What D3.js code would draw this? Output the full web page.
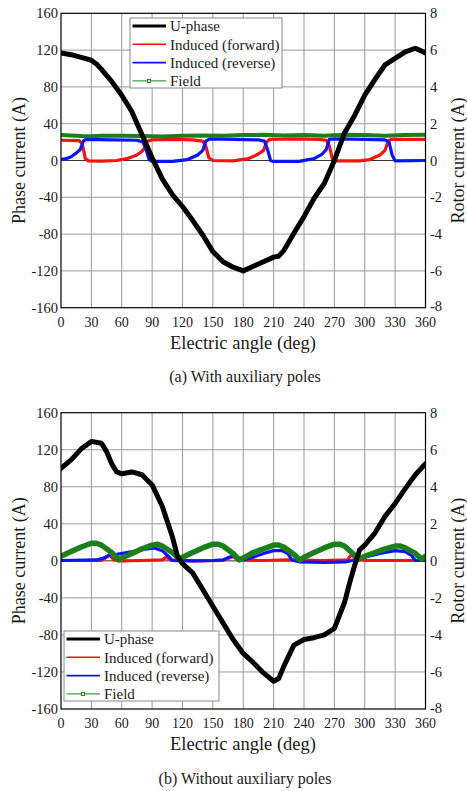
<!DOCTYPE html>
<html>
<head>
<meta charset="utf-8">
<script src="https://cdn.jsdelivr.net/npm/d3@7"></script>
<style>
  body { margin: 0; background: #fff; }
  svg text { font-family: 'Liberation Serif', 'Times New Roman', Times, serif; fill: #1a1a1a; }
</style>
</head>
<body>
<svg id="chart" width="467" height="791" font-family="Liberation Serif, Times New Roman, serif"></svg>
<script>
// ---- tick values ----
const angleTicks = d3.range(0, 361, 30);
const phaseTicks = d3.range(-160, 161, 40);
const rotorTicks = d3.range(-8, 9, 2);

// ---- (a) with auxiliary poles ----
const aUAngle = [0, 10, 20, 30, 35, 40, 50, 60, 70, 80, 90, 100, 110, 120, 130, 140, 150, 160, 170, 180,
                 190, 200, 210, 215, 220, 230, 240, 250, 260, 270, 280, 290, 300, 310, 320, 330, 340, 350, 360];
const aU      = [117, 115, 112, 109, 105, 99, 86, 71, 53, 28, 3, -20, -37, -50, -65, -81, -99, -110, -116, -120,
                 -115, -110, -105, -104, -98, -79, -61, -41, -25, 0, 30, 49, 71, 88, 104, 111, 118, 122, 117];

const aFwdAngle = [0, 18, 21, 24, 27, 40, 55, 65, 75, 80, 83, 85, 90, 110, 130, 140, 143, 146, 150, 170,
                   185, 195, 200, 203, 206, 230, 255, 262, 265, 268, 272, 295, 305, 315, 320, 323, 326, 360];
const aFwd      = [1.1, 1.08, 0.9, 0.1, -0.02, -0.03, 0.0, 0.1, 0.3, 0.5, 0.7, 1.05, 1.12, 1.15, 1.12, 1.05, 0.8, 0.15, 0.0, -0.02,
                   0.1, 0.35, 0.55, 1.0, 1.15, 1.18, 1.15, 1.1, 0.8, 0.1, -0.02, -0.02, 0.05, 0.3, 0.55, 1.05, 1.15, 1.15];

const aRevAngle = [0, 5, 10, 15, 19, 22, 25, 50, 75, 81, 84, 87, 90, 110, 125, 135, 140, 143, 147, 170,
                   195, 201, 204, 207, 210, 235, 250, 258, 262, 265, 270, 300, 320, 324, 327, 330, 360];
const aRev      = [0.05, 0.1, 0.2, 0.4, 0.6, 1.05, 1.15, 1.12, 1.1, 1.0, 0.6, 0.05, -0.05, -0.05, 0.05, 0.3, 0.55, 1.05, 1.18, 1.15,
                   1.12, 1.05, 0.6, 0.0, -0.05, -0.05, 0.1, 0.35, 0.6, 1.15, 1.18, 1.15, 1.12, 1.0, 0.3, -0.02, 0.0];

const aFieldAngle = [0, 10, 20, 30, 40, 60, 80, 100, 120, 140, 160, 180, 200, 220, 240, 260, 280, 300, 320, 340, 360];
const aField      = [1.38, 1.36, 1.33, 1.32, 1.34, 1.35, 1.33, 1.31, 1.34, 1.36, 1.35, 1.38, 1.4, 1.36, 1.38, 1.35, 1.4, 1.38, 1.34, 1.38, 1.4];

// ---- (b) without auxiliary poles ----
const bUAngle = [0, 10, 20, 30, 40, 45, 50, 55, 60, 70, 80, 90, 100, 110, 115, 120, 130, 140, 150, 160, 170, 180,
                 190, 200, 210, 215, 220, 230, 240, 250, 260, 270, 280, 285, 290, 295, 300, 310, 320, 330, 340, 350, 360];
const bU      = [100, 109, 121, 129, 127, 118, 105, 96, 94, 96, 93, 82, 59, 26, 5, -3, -13, -31, -49, -67, -85, -100,
                 -110, -121, -130, -127, -114, -91, -85, -83, -80, -73, -45, -24, -5, 12, 17, 30, 48, 62, 78, 93, 105];

const bFwdAngle = [0, 40, 45, 48, 52, 60, 80, 100, 104, 108, 130, 160, 166, 170, 174, 200, 226, 260, 283, 287, 291, 300, 340, 360];
const bFwd      = [0.02, 0.02, 0.2, 0.35, 0.05, 0.0, 0.02, 0.05, 0.2, 0.05, 0.0, 0.02, 0.15, 0.25, 0.05, 0.02, 0.05, 0.02, 0.05, 0.35, 0.1, 0.02, 0.02, 0.02];

const bRevAngle = [0, 35, 42, 48, 55, 65, 80, 92, 100, 106, 110, 130, 150, 160, 166, 172, 180, 190, 200, 210,
                   218, 224, 228, 235, 260, 282, 290, 300, 315, 330, 340, 346, 350, 360];
const bRev      = [0.02, 0.05, 0.15, 0.3, 0.35, 0.45, 0.6, 0.7, 0.55, 0.25, 0.02, 0.0, 0.02, 0.05, 0.2, 0.25, 0.05, 0.2, 0.4, 0.55,
                   0.55, 0.4, 0.05, -0.05, -0.08, -0.05, 0.05, 0.2, 0.4, 0.55, 0.5, 0.3, 0.02, 0.02];

const bFieldAngle = [0, 10, 20, 30, 35, 40, 50, 57, 60, 70, 80, 90, 95, 100, 110, 117, 120, 130, 140, 150, 155, 160, 170, 176,
                     180, 190, 200, 210, 215, 220, 230, 236, 240, 250, 260, 270, 275, 280, 290, 294, 300, 310, 320, 330, 335, 340, 350, 356, 360];
const bField      = [0.25, 0.5, 0.75, 0.95, 0.95, 0.85, 0.45, 0.05, 0.15, 0.4, 0.65, 0.85, 0.9, 0.8, 0.45, 0.1, 0.2, 0.45, 0.7, 0.9, 0.9, 0.8, 0.4, 0.05,
                     0.15, 0.45, 0.65, 0.85, 0.85, 0.75, 0.35, 0.05, 0.2, 0.45, 0.7, 0.9, 0.9, 0.8, 0.3, 0.1, 0.25, 0.45, 0.65, 0.8, 0.8, 0.7, 0.4, 0.1, 0.25];

const seriesNames = ['U-phase', 'Induced (forward)', 'Induced (reverse)', 'Field'];
const colors = { u: '#000000', fwd: '#ff1010', rev: '#0a14ff', field: '#1b7f1b' };
const FONT = "'Liberation Serif', 'Times New Roman', Times, serif";

const svg = d3.select('#chart');
const zip = (xs, ys) => xs.map((x, i) => [x, ys[i]]);

function label(sel, size) {
    return sel.style('font-family', FONT).style('font-size', size + 'px').style('fill', '#1a1a1a');
}

function drawPanel(p) {
    const x  = d3.scaleLinear().domain([0, 360]).range([61, 425.5]);
    const yL = d3.scaleLinear().domain([-160, 160]).range([p.bottom, p.top]);
    const yR = d3.scaleLinear().domain([-8, 8]).range([p.bottom, p.top]);
    const g  = svg.append('g');

    // grid
    g.append('g').selectAll('line').data(angleTicks.slice(1, -1)).join('line')
        .attr('x1', d => x(d)).attr('x2', d => x(d))
        .attr('y1', p.top).attr('y2', p.bottom)
        .attr('stroke', '#999').attr('stroke-width', 1);
    g.append('g').selectAll('line').data(phaseTicks.slice(1, -1)).join('line')
        .attr('x1', x(0)).attr('x2', x(360))
        .attr('y1', d => yL(d)).attr('y2', d => yL(d))
        .attr('stroke', d => d === 0 ? '#333' : '#999').attr('stroke-width', 1);

    // tick labels
    label(g.append('g').selectAll('text').data(phaseTicks).join('text'), 14.5)
        .attr('x', 58).attr('y', d => yL(d)).attr('dy', '0.35em')
        .attr('text-anchor', 'end').text(d => d);
    label(g.append('g').selectAll('text').data(rotorTicks).join('text'), 14.5)
        .attr('x', 430).attr('y', d => yR(d) - (d === -8 ? 1.5 : 0)).attr('dy', '0.35em')
        .attr('text-anchor', 'start').text(d => d);
    label(g.append('g').selectAll('text').data(angleTicks).join('text'), 14)
        .attr('x', d => x(d)).attr('y', p.bottom + 19)
        .attr('text-anchor', 'middle').text(d => d);

    // axis titles
    const midY = (p.top + p.bottom) / 2;
    label(g.append('text'), 18).attr('transform', `translate(25,${midY}) rotate(-90)`)
        .attr('text-anchor', 'middle').text('Phase current (A)');
    label(g.append('text'), 18).attr('transform', `translate(464,${midY}) rotate(-90)`)
        .attr('text-anchor', 'middle').text('Rotor current (A)');
    label(g.append('text'), 18.5).attr('x', 243).attr('y', p.bottom + 41)
        .attr('text-anchor', 'middle').text('Electric angle (deg)');
    label(g.append('text'), 16).attr('x', 245).attr('y', p.caption)
        .attr('text-anchor', 'middle').text(p.title);

    // series
    const clipId = 'clip' + p.id;
    svg.append('clipPath').attr('id', clipId).append('rect')
        .attr('x', x(0)).attr('y', p.top).attr('width', x(360) - x(0)).attr('height', p.bottom - p.top);
    const s = g.append('g').attr('clip-path', `url(#${clipId})`);
    const lineL = d3.line().x(d => x(d[0])).y(d => yL(d[1]));
    const lineR = d3.line().x(d => x(d[0])).y(d => yR(d[1]));
    const addPath = (data, gen, color, w) => s.append('path').datum(data)
        .attr('d', gen).attr('fill', 'none').attr('stroke', color)
        .attr('stroke-width', w).attr('stroke-linejoin', 'round').attr('stroke-linecap', 'round');

    addPath(zip(p.fwdAngle, p.fwd), lineR, colors.fwd, 3.2);
    addPath(zip(p.revAngle, p.rev), lineR, colors.rev, 3.2);
    addPath(zip(p.fieldAngle, p.field), lineR, colors.field, p.fieldW);
    addPath(zip(p.uAngle, p.u), lineL, colors.u, 5);

    // frame
    g.append('rect').attr('x', x(0)).attr('y', p.top)
        .attr('width', x(360) - x(0)).attr('height', p.bottom - p.top)
        .attr('fill', 'none').attr('stroke', '#000').attr('stroke-width', 1.2);

    // legend
    const lg = g.append('g').attr('transform', `translate(${p.legX},${p.legY})`);
    lg.append('rect').attr('width', p.legW).attr('height', 70)
        .attr('fill', '#fff').attr('stroke', '#888').attr('stroke-width', 1);
    const legStyle = [
        { c: colors.u, w: 2.8 }, { c: colors.fwd, w: 1.4 },
        { c: colors.rev, w: 1.8 }, { c: colors.field, w: 1, marker: true }
    ];
    seriesNames.forEach((name, i) => {
        const cy = 8 + i * 18.3;
        lg.append('line').attr('x1', 2.5).attr('x2', 36).attr('y1', cy).attr('y2', cy)
            .attr('stroke', legStyle[i].c).attr('stroke-width', legStyle[i].w);
        if (legStyle[i].marker) {
            lg.append('rect').attr('x', 17.5).attr('y', cy - 1.5).attr('width', 3).attr('height', 3)
                .attr('fill', '#fff').attr('stroke', colors.field).attr('stroke-width', 1);
        }
        label(lg.append('text'), 15).attr('x', 40).attr('y', cy).attr('dy', '0.35em').text(name);
    });
}

drawPanel({
    id: 'a', top: 13.3, bottom: 307.7, caption: 382, title: '(a) With auxiliary poles',
    uAngle: aUAngle, u: aU, fwdAngle: aFwdAngle, fwd: aFwd, revAngle: aRevAngle, rev: aRev,
    fieldAngle: aFieldAngle, field: aField, fieldW: 4,
    legX: 130, legY: 18, legW: 152
});
drawPanel({
    id: 'b', top: 412.7, bottom: 709, caption: 784, title: '(b) Without auxiliary poles',
    uAngle: bUAngle, u: bU, fwdAngle: bFwdAngle, fwd: bFwd, revAngle: bRevAngle, rev: bRev,
    fieldAngle: bFieldAngle, field: bField, fieldW: 5.5,
    legX: 64, legY: 631, legW: 155
});
</script>
</body>
</html>
